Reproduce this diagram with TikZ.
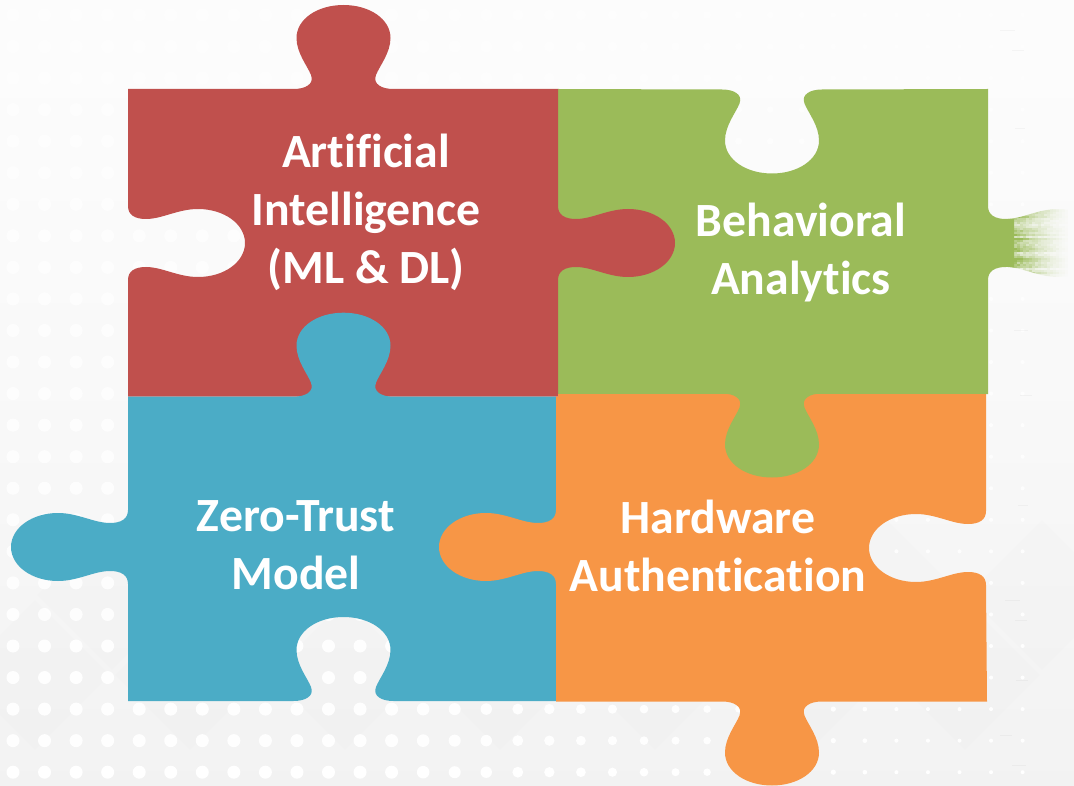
\documentclass[tikz,border=0pt]{standalone}
\usepackage{fontspec}
\setmainfont{Carlito}[Ligatures=NoCommon]
\definecolor{pzred}{HTML}{C0504D}
\definecolor{pzgreen}{HTML}{9BBB59}
\definecolor{pzblue}{HTML}{4BACC6}
\definecolor{pzorange}{HTML}{F79646}
% vertical-axis lobe: centre x, base y, outward sign (y), travel sign (x)
\newcommand\vlobe[4]{
  -- ({#1-(#4)*50},{#2})
  .. controls ({#1-(#4)*38},{#2}) and ({#1-(#4)*29},{#2+(#3)*5}) .. ({#1-(#4)*32.5},{#2+(#3)*14})
  .. controls ({#1-(#4)*36},{#2+(#3)*23}) and ({#1-(#4)*47},{#2+(#3)*36}) .. ({#1-(#4)*47},{#2+(#3)*51})
  .. controls ({#1-(#4)*47},{#2+(#3)*70}) and ({#1-(#4)*26},{#2+(#3)*84}) .. ({#1},{#2+(#3)*84})
  .. controls ({#1+(#4)*26},{#2+(#3)*84}) and ({#1+(#4)*47},{#2+(#3)*70}) .. ({#1+(#4)*47},{#2+(#3)*51})
  .. controls ({#1+(#4)*47},{#2+(#3)*36}) and ({#1+(#4)*36},{#2+(#3)*23}) .. ({#1+(#4)*32.5},{#2+(#3)*14})
  .. controls ({#1+(#4)*29},{#2+(#3)*5}) and ({#1+(#4)*38},{#2}) .. ({#1+(#4)*50},{#2})
}
% horizontal-axis lobe: base x, centre y, outward sign (x), travel sign (y)
\newcommand\hlobe[4]{
  -- ({#1},{#2-(#4)*37})
  .. controls ({#1},{#2-(#4)*28}) and ({#1+(#3)*7},{#2-(#4)*24}) .. ({#1+(#3)*18},{#2-(#4)*24})
  .. controls ({#1+(#3)*34},{#2-(#4)*24}) and ({#1+(#3)*50},{#2-(#4)*34}) .. ({#1+(#3)*70},{#2-(#4)*34})
  .. controls ({#1+(#3)*96},{#2-(#4)*34}) and ({#1+(#3)*117},{#2-(#4)*19}) .. ({#1+(#3)*117},{#2})
  .. controls ({#1+(#3)*117},{#2+(#4)*19}) and ({#1+(#3)*96},{#2+(#4)*34}) .. ({#1+(#3)*70},{#2+(#4)*34})
  .. controls ({#1+(#3)*50},{#2+(#4)*34}) and ({#1+(#3)*34},{#2+(#4)*24}) .. ({#1+(#3)*18},{#2+(#4)*24})
  .. controls ({#1+(#3)*7},{#2+(#4)*24}) and ({#1},{#2+(#4)*28}) .. ({#1},{#2+(#4)*37})
}
\tikzset{
  label text/.style={text=white,align=center,inner sep=0pt,
    font=\fontsize{47.7}{58}\selectfont\bfseries},
  bgdiamond/.style={fill=black,fill opacity=0.007,draw=none},
  streak/.style={draw=black,draw opacity=0.03,line width=0.8pt}
}
\begin{document}
\begin{tikzpicture}[x=1pt,y=-1pt]
\path[use as bounding box] (0,0) rectangle (1074,786);
% background
\shade[top color=black!1,bottom color=black!5,middle color=black!2.5] (0,0) rectangle (1074,786);
\foreach \cx in {35,190,345,500,655,810,965}{
  \fill[bgdiamond] (\cx,600) -- (\cx+75,675) -- (\cx,750) -- (\cx-75,675) -- cycle;
  \fill[bgdiamond] (\cx+77,520) -- (\cx+152,595) -- (\cx+77,670) -- (\cx+2,595) -- cycle;
}
\foreach \i in {0,...,6}{\fill[white,opacity=0.07] (1030+\i*7,0) rectangle (1074,786);}
\foreach \k in {0,...,32}{
  \foreach \j in {0,...,24}{
    \pgfmathsetmacro{\dx}{13+31.55*\k}
    \pgfmathsetmacro{\dy}{15+31.55*\j}
    \pgfmathsetmacro{\dr}{max(2,6.5-0.009*max(\dx-400,0))}
    \pgfmathsetmacro{\dop}{0.55+0.45*\j/24}
    \fill[white,opacity=\dop] (\dx,\dy) circle[radius=\dr];
  }
}
\foreach \ax/\ay/\al in {1000/30/15,1012/50/12,1015/128/10,1008/230/16,1014/330/14,1020/395/12,1005/600/15,1015/620/12,1012/765/14,1000/735/12,1018/505/10,1016/680/12}{
  \draw[streak] (\ax,\ay) -- (\ax+\al,\ay);
}
% green piece (with notch at the top)
\fill[pzgreen] (558,89) \vlobe{772}{89.5}{1}{1} -- (988,89) -- (988,206)
  .. controls (988,215) and (995,219) .. (1006,219) -- (1014,219) -- (1014,267) -- (1006,267)
  .. controls (995,267) and (988,271) .. (988,280) -- (988,394) -- (558,394) -- cycle;
% fading right lobe of the green piece
\begin{scope}
  \clip (1000,200) \hlobe{988}{243}{1}{1} -- (1000,290) -- cycle;
  \pgfmathsetseed{4711}
  \foreach \row in {0,...,34}{
    \pgfmathsetmacro{\rowy}{208+\row*2}
    \pgfmathsetmacro{\rowf}{0.15+0.85*rnd}
    \foreach \col in {0,...,19}{
      \pgfmathsetmacro{\colx}{1008+\col*3}
      \pgfmathsetmacro{\tf}{max(0,1-(\colx-1008)/62)}
      \pgfmathsetmacro{\op}{min(1,\tf*(0.2+0.8*\tf)*(0.8*\rowf+0.3*rnd)*1.5)}
      \fill[pzgreen,opacity=\op] (\colx,\rowy) rectangle (\colx+3,\rowy+2);
    }
  }
\end{scope}
% red piece
\fill[pzred] (128,89) \vlobe{343.5}{89}{-1}{1} -- (558,89) \hlobe{558}{243}{1}{1} -- (558,396.7) -- (128,396.7)
  \hlobe{128}{243}{1}{-1} -- cycle;
% blue piece
\fill[pzblue] (128,396.7) \vlobe{343.5}{396.7}{-1}{1} -- (556,396.7) -- (556,701)
  \vlobe{343.5}{701}{-1}{-1} -- (128,701) \hlobe{128}{547}{-1}{-1} -- cycle;
% orange piece
\fill[pzorange] (558,394) -- (986,394) \hlobe{986}{548}{-1}{1} -- (987,701.5)
  \vlobe{772}{701.5}{1}{-1} -- (556,701.5) \hlobe{556}{547}{-1}{-1} -- (556,396.7) -- (558,396.7) -- cycle;
% green lobe that lies over the orange piece
\fill[pzgreen] (722,393) \vlobe{772}{393.5}{1}{1} -- (822,393) -- cycle;
% labels
\node[label text] (ai) at (366,212.5) {Artificial\\Intelligence\\(ML \& DL)};
\node[label text] (ba) at (801,253) {Behavioral\\Analytics};
\node[label text] (zt) at (296,545.5) {Zero-Trust\\Model};
\node[label text] (ha) at (718,545.5) {Hardware\\Authentication};
\end{tikzpicture}
\end{document}
